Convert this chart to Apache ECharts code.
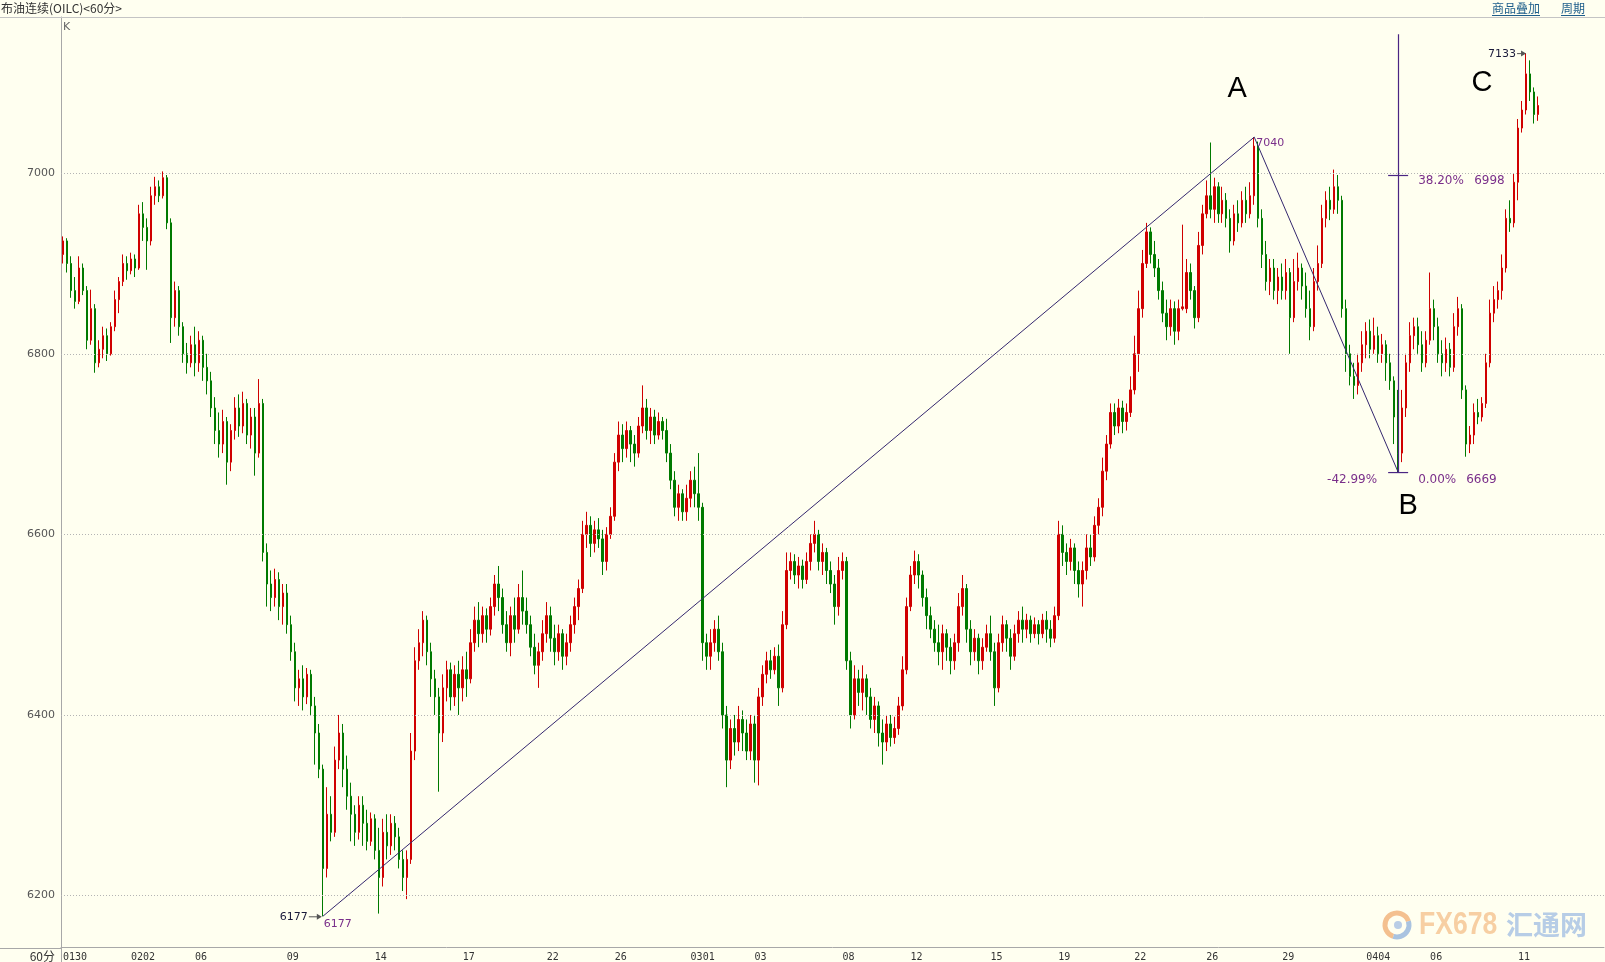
<!DOCTYPE html>
<html><head><meta charset="utf-8">
<script src="https://cdn.jsdelivr.net/npm/echarts@6/dist/echarts.min.js"></script>
<style>html,body{margin:0;padding:0;background:#fffff0;}#c{width:1605px;height:962px;}</style>
</head><body><div id="c"></div>
<script>
// each bar: [open, close, low, high]
const d0130=[[6910,6925,6900,6930],[6925,6900,6890,6928],[6900,6870,6862,6908],[6870,6858,6850,6885],[6858,6895,6855,6908],[6895,6870,6865,6900],[6870,6815,6805,6875],[6815,6850,6810,6871],[6850,6790,6779,6855],[6790,6805,6785,6815],[6805,6820,6795,6830],[6820,6800,6792,6828],[6800,6830,6798,6835],[6830,6860,6825,6870],[6860,6880,6845,6885],[6880,6900,6875,6910],[6900,6892,6882,6908]];
const d0202=[[6892,6905,6888,6912],[6905,6895,6885,6910],[6895,6955,6893,6965],[6955,6940,6925,6968],[6940,6925,6893,6950],[6925,6975,6920,6985],[6975,6985,6965,6996],[6985,6975,6968,6992],[6975,6995,6972,7002],[6995,6945,6938,6998],[6945,6840,6812,6950],[6840,6870,6830,6880],[6870,6830,6820,6875],[6830,6800,6790,6835],[6800,6790,6778,6812],[6790,6810,6785,6820]];
const d0206=[[6810,6790,6775,6830],[6790,6815,6780,6825],[6815,6785,6770,6820],[6785,6770,6755,6800],[6770,6740,6730,6780],[6740,6715,6700,6752],[6715,6700,6685,6735],[6700,6725,6690,6738],[6725,6680,6655,6730],[6680,6715,6670,6722],[6715,6740,6705,6752],[6740,6720,6708,6755],[6720,6745,6712,6758],[6745,6710,6700,6750],[6710,6730,6695,6740],[6730,6690,6665,6740],[6690,6745,6685,6772],[6745,6580,6570,6750],[6580,6545,6520,6590],[6545,6530,6515,6560],[6530,6550,6520,6562],[6550,6520,6505,6558],[6520,6535,6500,6545]];
const d0209=[[6535,6500,6490,6545],[6500,6470,6460,6510],[6470,6430,6415,6480],[6430,6440,6410,6450],[6440,6420,6405,6455],[6420,6445,6412,6452],[6445,6410,6400,6450],[6410,6380,6345,6420],[6380,6340,6330,6390],[6340,6230,6177,6345],[6230,6290,6220,6320],[6290,6270,6260,6310],[6270,6350,6265,6365],[6350,6380,6340,6400],[6380,6340,6320,6390],[6340,6310,6295,6355],[6310,6290,6260,6325],[6290,6270,6255,6300],[6270,6300,6262,6310],[6300,6280,6255,6310],[6280,6260,6250,6295],[6260,6285,6255,6292]];
const d0214=[[6285,6250,6240,6290],[6250,6220,6180,6275],[6220,6270,6210,6285],[6270,6255,6240,6290],[6255,6280,6245,6290],[6280,6265,6250,6288],[6265,6240,6230,6275],[6240,6220,6205,6250],[6220,6240,6196,6250],[6240,6360,6235,6380],[6360,6460,6350,6475],[6460,6480,6450,6495],[6480,6505,6465,6515],[6505,6470,6455,6510],[6470,6440,6420,6480],[6440,6420,6400,6450],[6420,6380,6315,6430],[6380,6430,6370,6445],[6430,6450,6415,6460],[6450,6420,6405,6458],[6420,6445,6410,6455],[6445,6430,6400,6460]];
const d0217=[[6430,6450,6415,6465],[6450,6440,6420,6470],[6440,6480,6435,6495],[6480,6505,6470,6520],[6505,6490,6475,6525],[6490,6510,6480,6520],[6510,6495,6480,6518],[6495,6520,6488,6530],[6520,6545,6510,6555],[6545,6530,6515,6565],[6530,6500,6490,6540],[6500,6480,6470,6515],[6480,6510,6465,6520],[6510,6495,6480,6530],[6495,6530,6490,6545],[6530,6515,6500,6560],[6515,6500,6490,6530],[6500,6475,6465,6510],[6475,6455,6445,6490],[6455,6470,6430,6480],[6470,6490,6460,6505]];
const d0222=[[6490,6510,6480,6525],[6510,6485,6470,6520],[6485,6470,6455,6500],[6470,6490,6460,6500],[6490,6465,6450,6495],[6465,6480,6455,6490],[6480,6500,6470,6510],[6500,6520,6490,6530],[6520,6540,6505,6550],[6540,6600,6535,6615],[6600,6610,6585,6625],[6610,6590,6575,6620],[6590,6605,6580,6615],[6605,6595,6585,6618],[6595,6570,6555,6605],[6570,6600,6560,6608],[6600,6620,6595,6630]];
const d0226=[[6620,6680,6615,6690],[6680,6710,6670,6725],[6710,6695,6680,6722],[6695,6715,6685,6725],[6715,6700,6680,6720],[6700,6690,6675,6710],[6690,6720,6685,6730],[6720,6740,6712,6765],[6740,6715,6705,6750],[6715,6730,6700,6740],[6730,6710,6700,6738],[6710,6725,6705,6735],[6725,6715,6705,6730],[6715,6690,6680,6728],[6690,6660,6650,6700],[6660,6630,6620,6670],[6630,6645,6615,6655],[6645,6625,6615,6650],[6625,6640,6615,6655]];
const d0301=[[6640,6660,6630,6670],[6660,6645,6630,6675],[6645,6630,6615,6690],[6630,6480,6460,6635],[6480,6465,6450,6490],[6465,6480,6450,6495],[6480,6495,6470,6505],[6495,6470,6460,6510],[6470,6400,6385,6480],[6400,6350,6320,6410],[6350,6385,6340,6395],[6385,6370,6355,6400],[6370,6395,6360,6410],[6395,6380,6360,6405],[6380,6360,6350,6395],[6360,6390,6350,6400]];
const d0303=[[6390,6350,6325,6400],[6350,6420,6322,6430],[6420,6445,6410,6455],[6445,6460,6435,6470],[6460,6450,6440,6472],[6450,6465,6445,6475],[6465,6430,6410,6478],[6430,6500,6425,6515],[6500,6560,6495,6580],[6560,6570,6550,6580],[6570,6555,6545,6578],[6555,6565,6540,6575],[6565,6550,6540,6572],[6550,6570,6545,6580],[6570,6590,6560,6600],[6590,6600,6580,6615],[6600,6570,6560,6605],[6570,6580,6555,6590],[6580,6560,6545,6585],[6560,6545,6535,6570],[6545,6520,6500,6555],[6520,6560,6510,6575]];
const d0308=[[6560,6570,6550,6580],[6570,6460,6450,6575],[6460,6400,6385,6470],[6400,6440,6395,6455],[6440,6425,6410,6450],[6425,6440,6405,6455],[6440,6420,6400,6445],[6420,6395,6385,6430],[6395,6410,6380,6420],[6410,6380,6365,6415],[6380,6370,6345,6395],[6370,6390,6360,6400],[6390,6375,6365,6400],[6375,6385,6368,6398],[6385,6410,6378,6420],[6410,6450,6405,6465],[6450,6520,6445,6530]];
const d0312=[[6520,6555,6515,6565],[6555,6570,6545,6582],[6570,6555,6540,6578],[6555,6530,6520,6560],[6530,6510,6495,6540],[6510,6495,6485,6520],[6495,6480,6470,6505],[6480,6470,6455,6500],[6470,6490,6450,6500],[6490,6475,6460,6495],[6475,6460,6445,6485],[6460,6480,6450,6490],[6480,6520,6470,6535],[6520,6540,6510,6555],[6540,6495,6480,6545],[6495,6470,6455,6505],[6470,6485,6460,6495],[6485,6460,6445,6490],[6460,6475,6450,6485],[6475,6490,6470,6500]];
const d0315=[[6490,6470,6460,6510],[6470,6430,6410,6480],[6430,6480,6425,6490],[6480,6500,6470,6510],[6500,6485,6470,6505],[6485,6465,6450,6495],[6465,6490,6460,6500],[6490,6505,6480,6515],[6505,6495,6480,6520],[6495,6505,6485,6512],[6505,6490,6480,6510],[6490,6500,6485,6508],[6500,6490,6478,6505],[6490,6505,6485,6512],[6505,6495,6480,6515],[6495,6485,6475,6505],[6485,6510,6480,6520]];
const d0319=[[6510,6600,6505,6615],[6600,6580,6565,6610],[6580,6570,6555,6590],[6570,6585,6560,6595],[6585,6560,6545,6590],[6560,6545,6530,6570],[6545,6560,6520,6570],[6560,6585,6550,6600],[6585,6575,6565,6600],[6575,6610,6570,6620],[6610,6630,6600,6640],[6630,6670,6620,6685],[6670,6700,6660,6710],[6700,6735,6695,6745],[6735,6720,6710,6745],[6720,6740,6712,6750],[6740,6725,6712,6748],[6725,6735,6715,6745],[6735,6760,6730,6775]];
const d0322=[[6760,6800,6755,6820],[6800,6850,6780,6870],[6850,6900,6840,6915],[6900,6935,6895,6945],[6935,6910,6900,6940],[6910,6895,6885,6925],[6895,6870,6860,6905],[6870,6845,6835,6880],[6845,6830,6815,6860],[6830,6850,6820,6860],[6850,6825,6810,6858],[6825,6850,6815,6860],[6850,6852,6848,6943],[6850,6890,6845,6905],[6890,6870,6860,6900],[6870,6840,6828,6875],[6840,6920,6835,6935],[6920,6955,6910,6965]];
const d0326=[[6955,6975,6950,6992],[6975,6960,6950,7034],[6960,6985,6945,6995],[6985,6955,6945,6990],[6955,6970,6945,6985],[6970,6950,6940,6978],[6950,6925,6912,6960],[6925,6955,6920,6965],[6955,6945,6935,6970],[6945,6970,6940,6980],[6970,6955,6945,6985],[6955,6975,6950,6990],[6975,7030,6965,7040],[7030,6950,6940,7035],[6950,6910,6895,6960],[6910,6880,6870,6925],[6880,6895,6865,6905],[6895,6870,6860,6905],[6870,6885,6855,6895]];
const d0329=[[6885,6870,6860,6900],[6870,6890,6860,6905],[6890,6840,6800,6895],[6840,6880,6835,6905],[6880,6895,6870,6912],[6895,6875,6860,6900],[6875,6850,6840,6890],[6850,6830,6815,6870],[6830,6880,6825,6895],[6880,6900,6870,6920],[6900,6950,6895,6965],[6950,6970,6940,6980],[6970,6960,6948,6985],[6960,6985,6955,7004],[6985,6970,6955,6998],[6970,6850,6840,6975],[6850,6800,6780,6860],[6800,6775,6765,6810],[6775,6765,6750,6790],[6765,6790,6755,6800],[6790,6810,6780,6825]];
const d0404=[[6810,6825,6795,6835],[6825,6805,6795,6838],[6805,6820,6800,6840],[6820,6800,6790,6830],[6800,6810,6790,6822],[6810,6790,6770,6815],[6790,6770,6760,6800],[6770,6730,6700,6775],[6730,6690,6669,6760],[6690,6740,6680,6760],[6740,6790,6730,6800],[6790,6820,6780,6835],[6820,6830,6805,6840],[6830,6810,6800,6840],[6810,6790,6780,6825],[6790,6815,6785,6825]];
const d0406=[[6815,6850,6810,6890],[6850,6830,6815,6860],[6830,6800,6790,6840],[6800,6790,6775,6815],[6790,6805,6780,6818],[6805,6785,6775,6812],[6785,6830,6780,6845],[6830,6850,6820,6863],[6850,6760,6750,6855],[6760,6700,6686,6765],[6700,6710,6690,6720],[6710,6735,6700,6745],[6735,6730,6722,6750],[6730,6745,6725,6752],[6745,6790,6740,6800],[6790,6845,6785,6860],[6845,6860,6835,6875],[6860,6870,6850,6880],[6870,6895,6860,6910],[6895,6950,6890,6960],[6950,6945,6935,6970],[6945,6990,6940,7000]];
const d0411=[[6990,7050,6970,7060],[7050,7070,7045,7080],[7070,7110,7065,7133],[7110,7090,7080,7125],[7090,7065,7055,7095],[7065,7075,7058,7085]];

// x tick labels (first bar of each labelled day)
const dayLabels=['0130','0202','06','09','14','17','22','26','0301','03','08','12','15','19','22','26','29','0404','06','11'];
const dayBars=[d0130,d0202,d0206,d0209,d0214,d0217,d0222,d0226,d0301,d0303,d0308,d0312,d0315,d0319,d0322,d0326,d0329,d0404,d0406,d0411];
const yTicks=[6200,6400,6600,6800,7000];
const yMin=6143, yMax=7173;
const emptySlots=16;

// annotation anchor values [bar index, price]
const lowPoint=[65,6177];
const pointA=[298,7040];
const pointB=[334,6669];
const peakC=[366,7133];
const fibTop=7154;
const fib382=6998;
const fibLabels={p382:'38.20%',v382:'6998',pNeg:'-42.99%',p0:'0.00%',v0:'6669'};

const candles=[], cats=[], labelAt={};
dayBars.forEach((arr,k)=>{labelAt[candles.length]=dayLabels[k]; arr.forEach(b=>candles.push(b));});
for(let i=0;i<candles.length+emptySlots;i++) cats.push('b'+i);
const seriesData=candles.concat(new Array(emptySlots).fill('-'));

const UP='#d00000', DOWN='#007a00', LINE='#35286f', FIB='#4a2583', FIBTXT='#7a2f8a';

const chart=echarts.init(document.getElementById('c'),null,{renderer:'canvas'});
chart.setOption({
  backgroundColor:'#fffff0',
  animation:false,
  grid:{left:61,right:0,top:17,bottom:14,containLabel:false},
  xAxis:{type:'category',data:cats,boundaryGap:true,
    axisLine:{lineStyle:{color:'#a8a8a8',width:1}},
    axisTick:{show:false},
    axisLabel:{interval:0,formatter:(v,idx)=>labelAt[idx]||'',align:'left',color:'#333',
      fontFamily:'DejaVu Sans Mono',fontSize:10,margin:5},
    splitLine:{show:false}},
  yAxis:{type:'value',min:yMin,max:yMax,
    axisLine:{show:true,lineStyle:{color:'#a8a8a8',width:1}},
    axisTick:{show:false},
    axisLabel:{customValues:yTicks,formatter:v=>String(v),color:'#555',fontFamily:'DejaVu Sans',fontSize:11,margin:6},
    splitLine:{show:false}},
  series:[{
    type:'candlestick',data:seriesData,barWidth:2,
    itemStyle:{color:UP,color0:DOWN,borderColor:UP,borderColor0:DOWN,borderColorDoji:'#222',borderWidth:1},
    markLine:{silent:true,symbol:['none','none'],label:{show:false},animation:false,
      data:yTicks.map(v=>({yAxis:v,lineStyle:{type:[1,2],color:'#b4b4b4',width:1}})).concat([
        [{coord:lowPoint,lineStyle:{type:'solid',color:LINE,width:1}},{coord:pointA}],
        [{coord:pointA,lineStyle:{type:'solid',color:LINE,width:1}},{coord:pointB}],
        [{coord:[pointB[0],pointB[1]],lineStyle:{type:'solid',color:FIB,width:1.2}},{coord:[pointB[0],fibTop]}]
      ])}
  }]
});

function P(pt){return chart.convertToPixel({seriesIndex:0},pt);}
function txt(x,y,text,o){o=o||{};const e={type:'text',x:x,y:y,silent:true,z:100,style:{text:text,fill:o.fill||'#222',
  font:o.font||'12px "DejaVu Sans"',textAlign:o.align||'left',align:o.align||'left',textVerticalAlign:'middle',verticalAlign:'middle'}};
  if(o.scaleX){e.scaleX=o.scaleX;} return e;}
function ln(x1,y1,x2,y2,c,w){return {type:'line',silent:true,z:100,shape:{x1:x1,y1:y1,x2:x2,y2:y2},style:{stroke:c,lineWidth:w||1}};}
function arrowHead(x,y,c){return {type:'polygon',silent:true,z:100,shape:{points:[[x,y],[x-5,y-3],[x-5,y+3]]},style:{fill:c}};}

const pLow=P(lowPoint), pA=P(pointA), pB=P(pointB), pC=P(peakC), p382=P([pointB[0],fib382]);
const g=[];
// header
g.push(txt(1,8,'布油连续(OILC)<60分>',{font:'12px "Noto Sans CJK SC"',fill:'#333'}));
g.push(ln(0,17.5,1605,17.5,'#c4c4c4',1));
g.push(txt(63,27,'K',{font:'11px "DejaVu Sans"',fill:'#666'}));
g.push(txt(1492,8,'商品叠加',{font:'12px "Noto Sans CJK SC"',fill:'#1d5d8a'}));
g.push(ln(1492,15.5,1540,15.5,'#1d5d8a',1));
g.push(txt(1561,8,'周期',{font:'12px "Noto Sans CJK SC"',fill:'#1d5d8a'}));
g.push(ln(1561,15.5,1585,15.5,'#1d5d8a',1));
// axis extensions
g.push(ln(0,948.5,61,948.5,'#a8a8a8',1));
g.push(ln(61.5,948,61.5,962,'#a8a8a8',1));
g.push(txt(55,956,'60分',{font:'12px "Noto Sans CJK SC"',fill:'#333',align:'right'}));
// watermark
g.push({type:'arc',silent:true,z:1,shape:{cx:1397,cy:925,r:12,startAngle:Math.PI*0.6,endAngle:Math.PI*1.9},style:{stroke:'#f4c08f',lineWidth:5,fill:null}});
g.push({type:'arc',silent:true,z:1,shape:{cx:1397,cy:925,r:12,startAngle:Math.PI*1.9,endAngle:Math.PI*2.6},style:{stroke:'#a9c3e0',lineWidth:5,fill:null}});
g.push({type:'circle',silent:true,z:1,shape:{cx:1398,cy:925,r:4},style:{fill:'#b9cde6'}});
g.push(txt(1419,925,'FX678',{font:'bold 32px "Liberation Sans"',fill:'#f7cfa3',scaleX:0.83}));
g.push(txt(1506,925,'汇通网',{font:'bold 27px "Noto Sans CJK SC"',fill:'#b7cde6'}));
// wave letters
g.push(txt(pA[0]-17,pA[1]-48,'A',{font:'29px "Liberation Sans"',fill:'#000',align:'center'}));
g.push(txt(pB[0]+10,pB[1]+34,'B',{font:'29px "Liberation Sans"',fill:'#000',align:'center'}));
g.push(txt(pC[0]-44,pC[1]+30,'C',{font:'29px "Liberation Sans"',fill:'#000',align:'center'}));
// point labels
g.push(txt(pA[0]+2,pA[1]+6,String(pointA[1]),{font:'11px "DejaVu Sans"',fill:FIBTXT}));
g.push(txt(pLow[0]+1,pLow[1]+8,String(lowPoint[1]),{font:'11px "DejaVu Sans"',fill:FIBTXT}));
g.push(txt(pLow[0]-15,pLow[1]+1,String(lowPoint[1]),{font:'11px "DejaVu Sans"',fill:'#1a1a3a',align:'right'}));
g.push(ln(pLow[0]-14,pLow[1]+0.5,pLow[0]-3,pLow[1]+0.5,'#555',1));
g.push(arrowHead(pLow[0]-1,pLow[1]+0.5,'#555'));
g.push(txt(pC[0]-10,pC[1]+1,String(peakC[1]),{font:'11px "DejaVu Sans"',fill:'#1a1a3a',align:'right'}));
g.push(ln(pC[0]-9,pC[1]+0.5,pC[0]-2,pC[1]+0.5,'#555',1));
g.push(arrowHead(pC[0],pC[1]+0.5,'#555'));
// fib ticks and labels
g.push(ln(pB[0]-10,p382[1]+0.5,pB[0]+10,p382[1]+0.5,FIB,1.2));
g.push(ln(pB[0]-10,pB[1]+0.5,pB[0]+10,pB[1]+0.5,FIB,1.2));
g.push(txt(pB[0]+20,p382[1]+6,fibLabels.p382,{fill:FIBTXT}));
g.push(txt(pB[0]+76,p382[1]+6,fibLabels.v382,{fill:FIBTXT}));
g.push(txt(pB[0]-21,pB[1]+8,fibLabels.pNeg,{fill:FIBTXT,align:'right'}));
g.push(txt(pB[0]+20,pB[1]+8,fibLabels.p0,{fill:FIBTXT}));
g.push(txt(pB[0]+68,pB[1]+8,fibLabels.v0,{fill:FIBTXT}));
chart.setOption({graphic:{elements:g}});
</script></body></html>
